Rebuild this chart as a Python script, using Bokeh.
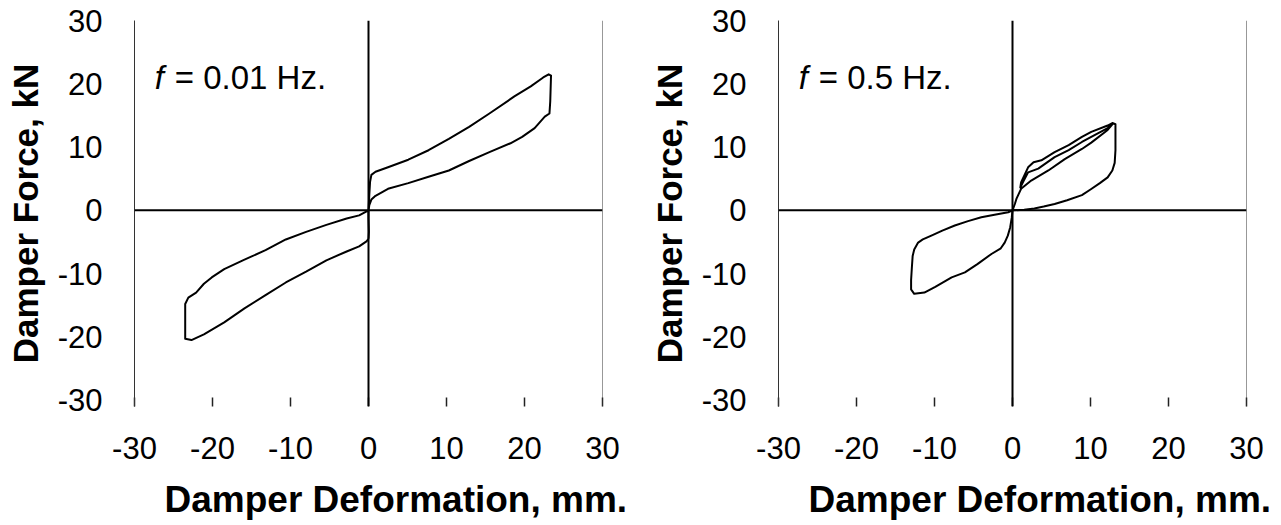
from bokeh.plotting import figure
from bokeh.layouts import row
from bokeh.models import Range1d, FixedTicker, Span, Label, Title, PrintfTickFormatter
from bokeh.embed import file_html
from bokeh.resources import INLINE

# ---- data -------------------------------------------------------------
x_ticks = [-30, -20, -10, 0, 10, 20, 30]
y_ticks = [-30, -20, -10, 0, 10, 20, 30]
x_label = "Damper Deformation, mm."
y_label = "Damper Force, kN"
freq_labels = ["= 0.01 Hz.", "= 0.5 Hz."]

# f = 0.01 Hz hysteresis loop (deformation mm, force kN)
disp_001 = [0.0, 0.05, 0.0, 0.0, 0.1, 0.2, 0.37, 0.9,
            2.5, 5.1, 7.7, 10.3, 12.9, 15.5, 18.7, 20.8, 22.4, 23.1, 23.4,
            23.3, 23.2,
            22.6, 21.3, 19.7, 18.2, 15.5, 12.9, 10.3, 7.7, 5.1, 2.5, 0.9, 0.37, 0.1, 0.0,
            -1.2, -2.8, -5.4, -8.0, -10.6, -13.2, -15.9, -18.5, -20.1, -21.1, -22.1, -23.1, -23.5,
            -23.5, -23.5,
            -22.7, -21.1, -18.5, -15.9, -13.2, -10.6, -8.0, -5.4, -2.8, -1.2, -0.26, 0.0]
force_001 = [-4.5, -3.4, -1.3, 0.0, 2.4, 4.5, 5.6, 6.1,
             6.8, 8.0, 9.5, 11.3, 13.2, 15.3, 18.0, 19.6, 21.0, 21.5, 21.3,
             17.2, 15.3,
             14.8, 13.0, 11.6, 10.6, 9.2, 7.8, 6.3, 5.3, 4.3, 3.4, 2.3, 1.7, 0.8, 0.0,
             -0.8, -1.3, -2.3, -3.4, -4.6, -6.3, -7.8, -9.3, -10.6, -11.6, -13.0, -13.8, -14.8,
             -17.7, -20.3,
             -20.5, -19.6, -17.7, -15.5, -13.4, -11.4, -9.7, -7.9, -6.5, -5.7, -4.9, -4.5]

# f = 0.5 Hz hysteresis loops (deformation mm, force kN)
disp_05 = [0.0, 0.3, 0.5, 0.8, 1.1,
           2.4, 4.6, 6.7, 8.9, 10.1, 12.2, 12.8,
           12.2, 10.1, 8.9, 7.2, 5.4, 3.3, 2.0, 1.4, 1.0,
           1.1, 2.0, 2.7, 3.7, 5.4, 7.2, 8.9, 10.1, 12.2, 12.8, 13.2,
           13.2, 13.1, 12.8, 12.2, 11.2, 10.0, 8.9, 7.0, 5.4, 4.0, 2.8, 1.5, 0.0,
           -0.55, -2.3, -4.0, -5.7, -7.4, -9.0, -10.4, -11.5, -12.1, -12.6, -12.8, -12.9,
           -13.0, -13.0, -12.6, -11.3, -9.9, -7.8, -6.1, -4.5, -2.7, -1.5, -1.0, -0.6, -0.3, -0.1, 0.0]
force_05 = [0.0, 1.0, 1.8, 2.6, 3.4,
            4.7, 6.3, 8.1, 9.7, 10.7, 12.7, 13.6,
            13.0, 11.6, 10.8, 9.5, 8.4, 6.6, 6.0, 4.6, 3.6,
            4.4, 6.8, 7.6, 7.9, 9.2, 10.3, 11.6, 12.4, 13.4, 13.8, 13.6,
            9.5, 7.5, 6.3, 5.2, 4.3, 3.3, 2.4, 1.6, 1.0, 0.6, 0.3, 0.1, 0.0,
            -0.3, -0.7, -1.1, -1.7, -2.4, -3.2, -4.0, -4.6, -5.1, -6.2, -7.2, -9.0,
            -11.0, -12.5, -13.2, -13.0, -12.1, -10.6, -9.8, -8.5, -6.9, -6.0, -5.1, -4.0, -2.7, -1.2, 0.0]

FONT = "Liberation Sans"


def make_panel(xs, ys, freq_text, border_right):
    p = figure(frame_width=468, frame_height=386,
               min_border_left=134, min_border_right=border_right,
               min_border_top=20, min_border_bottom=112,
               x_range=Range1d(-30, 30), y_range=Range1d(-31, 30),
               output_backend="svg", toolbar_location=None)
    p.outline_line_color = None
    p.grid.visible = False
    p.background_fill_color = "white"

    # x axis (below)
    xa = p.xaxis[0]
    xa.ticker = FixedTicker(ticks=x_ticks)
    xa.formatter = PrintfTickFormatter(format="%d")
    xa.axis_line_color = None
    xa.major_tick_in = 9
    xa.major_tick_out = 0
    xa.major_tick_line_width = 1.5
    xa.major_tick_line_color = "#222222"
    xa.minor_tick_line_color = None
    xa.major_label_text_font = FONT
    xa.major_label_text_font_size = "31px"
    xa.major_label_text_color = "black"
    xa.major_label_standoff = 30

    # y axis (left)
    ya = p.yaxis[0]
    ya.ticker = FixedTicker(ticks=y_ticks)
    ya.formatter = PrintfTickFormatter(format="%d")
    ya.axis_line_color = "#333333"
    ya.axis_line_width = 1
    ya.major_tick_line_color = None
    ya.minor_tick_line_color = None
    ya.major_label_text_font = FONT
    ya.major_label_text_font_size = "31px"
    ya.major_label_text_color = "black"
    ya.major_label_standoff = 26
    ya.axis_label = y_label
    ya.axis_label_text_font = FONT
    ya.axis_label_text_font_size = "35px"
    ya.axis_label_text_font_style = "bold"
    ya.axis_label_text_color = "black"
    ya.axis_label_standoff = 10

    # x label as a below title (shifted right as in the original)
    p.add_layout(Title(text=x_label, align="left", offset=30,
                       text_font=FONT, text_font_size="37px",
                       text_font_style="bold", text_color="black",
                       standoff=30), "below")

    # right border and zero axes
    p.add_layout(Span(location=30, dimension="height", line_color="#333333", line_width=1))
    p.add_layout(Span(location=0, dimension="height", line_color="black", line_width=2))
    p.add_layout(Span(location=0, dimension="width", line_color="black", line_width=2))

    p.line(xs, ys, line_color="black", line_width=2, line_join="round")

    p.add_layout(Label(x=-27.4, y=21, text="f", text_font=FONT,
                       text_font_size="33px", text_font_style="italic",
                       text_baseline="middle", text_color="black"))
    p.add_layout(Label(x=-27.4, y=21, x_offset=20, text=freq_text, text_font=FONT,
                       text_font_size="33px", text_baseline="middle",
                       text_color="black"))
    return p


p1 = make_panel(disp_001, force_001, freq_labels[0], 42)
p2 = make_panel(disp_05, force_05, freq_labels[1], 30)
layout = row(p1, p2)

open("out.html", "w").write(file_html(layout, INLINE))
